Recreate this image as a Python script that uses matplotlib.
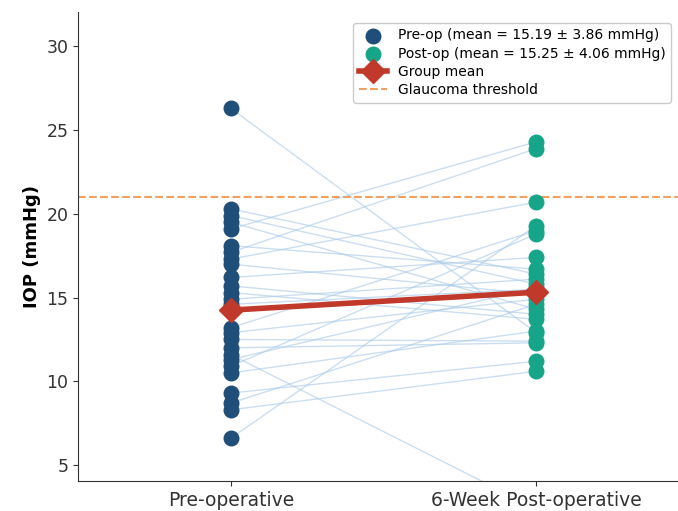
import matplotlib
matplotlib.use("Agg")
import matplotlib.pyplot as plt

categories = ["Pre-operative", "6-Week Post-operative"]
pre_iop = [26.3, 20.3, 19.9, 19.5, 19.1, 18.1, 17.7, 17.3, 17.0, 16.2, 15.7, 15.3, 14.9,
           14.6, 13.2, 12.9, 12.5, 12.0, 11.6, 11.3, 10.9, 10.5, 9.3, 8.7, 8.3, 6.6]
post_iop = [12.9, 16.4, 15.8, 14.3, 24.3, 16.7, 23.9, 20.7, 15.2, 17.4, 14.0, 13.7, 16.1,
            15.5, 19.0, 14.9, 12.4, 12.3, 2.4, 15.6, 18.8, 13.0, 11.2, 14.6, 10.6, 19.3]
group_mean = [14.25, 15.32]
threshold = 21
pre_label = "Pre-op (mean = 15.19 ± 3.86 mmHg)"
post_label = "Post-op (mean = 15.25 ± 4.06 mmHg)"

fig = plt.figure(figsize=(6.78, 5.11), dpi=100)
ax = fig.add_axes([78/678, 1-481/511, (689-78)/678, (481-12)/511])

for a, b in zip(pre_iop, post_iop):
    ax.plot([0, 1], [a, b], color="#a9c9e8", alpha=0.6, lw=1, zorder=1)

ax.scatter([0]*len(pre_iop), pre_iop, s=110, color="#1f4e79", zorder=3, label=pre_label)
ax.scatter([1]*len(post_iop), post_iop, s=110, color="#17a589", zorder=3, label=post_label)
ax.plot([0, 1], group_mean, color="#c0392b", lw=4, marker="D", markersize=12,
        zorder=4, label="Group mean")
ax.axhline(threshold, color="#f0a060", ls="--", lw=1.5, zorder=2, label="Glaucoma threshold")

ax.set_xlim(-0.5, 1.5)
ax.set_ylim(4.05, 32.05)
ax.set_xticks([0, 1])
ax.set_xticklabels(categories, fontsize=13.5, color="#222222")
ax.set_yticks([5, 10, 15, 20, 25, 30])
ax.tick_params(axis="y", labelsize=12.5, labelcolor="#222222")
ax.tick_params(colors="#333333")
ax.set_ylabel("IOP (mmHg)", fontsize=13, fontweight="bold")
for s in ["top", "right"]:
    ax.spines[s].set_visible(False)
for s in ["left", "bottom"]:
    ax.spines[s].set_color("#333333")

fig.legend(loc="upper right", bbox_to_anchor=(678/678, 1-16/511), fontsize=10,
           frameon=True, framealpha=1, edgecolor="#cccccc", borderpad=0.4,
           handletextpad=0.8, labelspacing=0.3)

fig.savefig("out.png", dpi=100)
